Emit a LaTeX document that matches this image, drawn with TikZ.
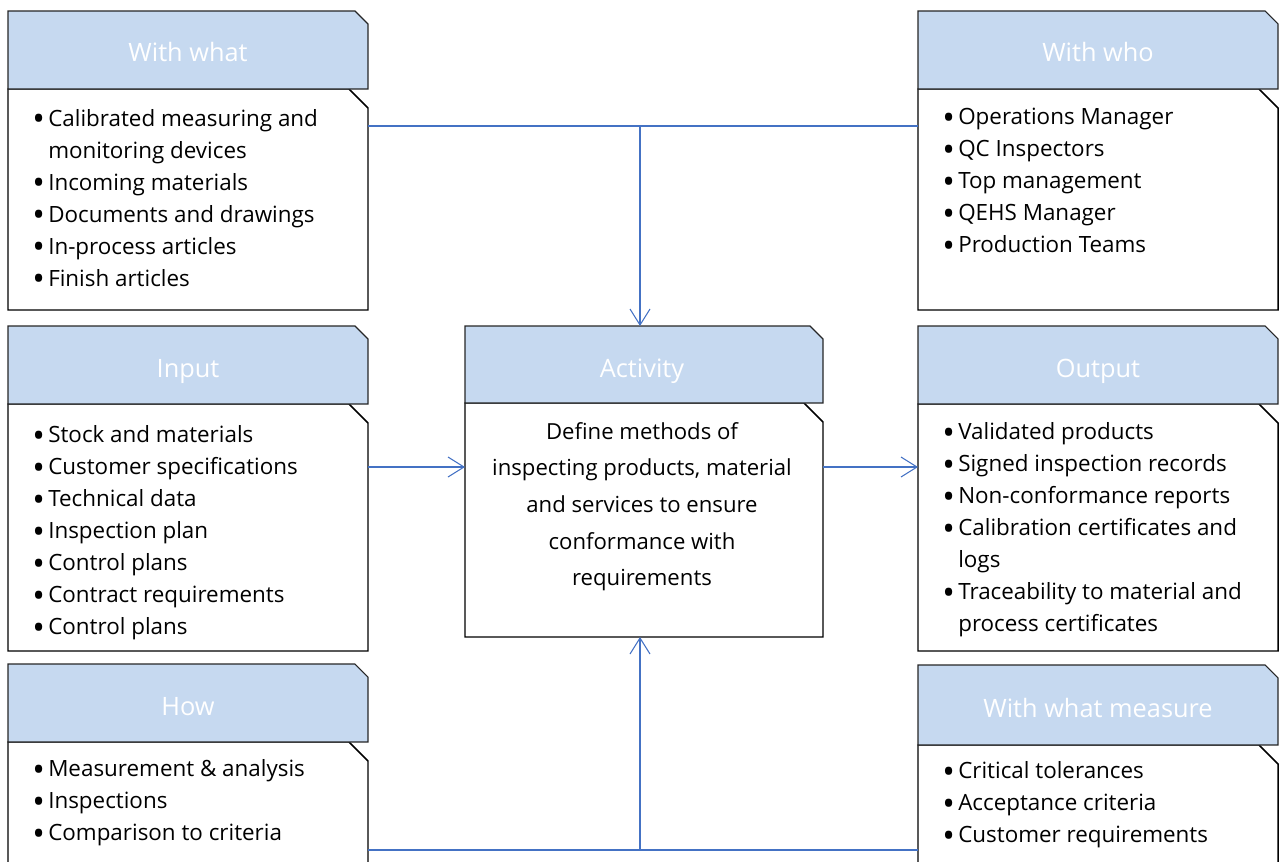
\documentclass[tikz,border=0pt]{standalone}
\usepackage{fontspec}
\setmainfont{Open Sans}
\usetikzlibrary{fit,arrows.meta}
\definecolor{hdr}{RGB}{198,217,240}
\definecolor{conn}{RGB}{68,114,196}
\newcommand\bl{\makebox[13.5pt][l]{\hspace{1.5pt}\raisebox{-0.21em}{\scalebox{1.5}{\textbullet}}}}
\newcommand\ind{\hspace*{13.5pt}}
% name, style, x1, y1, x2, y2, chamfer
\newcommand\chbox[7]{%
  \path[#2] (#3,#4) -- ({#5-#7},#4) -- (#5,{#4+#7}) -- (#5,#6) -- (#3,#6) -- cycle;
  \node[inner sep=0pt, outer sep=0pt, fit={(#3,#4) (#5,#6)}] (#1) {};}
\begin{document}
\begin{tikzpicture}[x=0.75pt,y=-0.75pt,
  hdrbox/.style={draw=black!85, line width=0.8pt, fill=hdr},
  bodybox/.style={draw=black, line width=1.1pt, fill=white},
  hlab/.style={anchor=base, text=white, inner sep=0pt, font=\fontsize{19pt}{23pt}\selectfont},
  lst/.style={anchor=north west, align=left, inner sep=0pt, font=\fontsize{16.8pt}{24pt}\selectfont},
  cn/.style={draw=conn, line width=0.8pt},
  arr/.style={cn, -{Straight Barb[length=12pt,width=15pt]}}
]
\useasboundingbox (0,0) rectangle (1280,861);
\clip (0,0) rectangle (1280,861);

% With what
\chbox{wwb}{bodybox}{8}{89}{368}{310}{19}
\chbox{wwh}{hdrbox}{8}{11}{368}{89}{13}
\node[hlab] (wwl) at (188,61) {With what};
\node[lst] (wwt) at (30,109) {\bl Calibrated measuring and\\ \ind monitoring devices\\ \bl Incoming materials\\ \bl Documents and drawings\\ \bl In-process articles\\ \bl Finish articles};

% With who
\chbox{whb}{bodybox}{918}{89}{1278}{310}{19}
\chbox{whh}{hdrbox}{918}{11}{1278}{89}{13}
\node[hlab] (whl) at (1098,61) {With who};
\node[lst] (wht) at (940,108) {\bl Operations Manager\\ \bl QC Inspectors\\ \bl Top management\\ \bl QEHS Manager\\ \bl Production Teams};

% Input
\chbox{inb}{bodybox}{8}{404}{368}{651}{19}
\chbox{inh}{hdrbox}{8}{326}{368}{404}{13}
\node[hlab] (inl) at (188,377) {Input};
\node[lst] (int) at (30,425) {\bl Stock and materials\\ \bl Customer specifications\\ \bl Technical data\\ \bl Inspection plan\\ \bl Control plans\\ \bl Contract requirements\\ \bl Control plans};

% Activity
\chbox{actb}{bodybox}{465}{403}{823}{637}{19}
\chbox{acth}{hdrbox}{465}{326}{823}{403}{13}
\node[hlab] (actl) at (642,377) {Activity};
\node[anchor=north, align=center, inner sep=0pt, font=\fontsize{16.6pt}{27.5pt}\selectfont] (actt) at (642,422) {Define methods of\\ inspecting products, material\\ and services to ensure\\ conformance with\\ requirements};

% Output
\chbox{outb}{bodybox}{918}{404}{1278}{651}{19}
\chbox{outh}{hdrbox}{918}{326}{1278}{404}{13}
\node[hlab] (outl) at (1098,377) {Output};
\node[lst] (outt) at (940,422) {\bl Validated products\\ \bl Signed inspection records\\ \bl Non-conformance reports\\ \bl Calibration certificates and\\ \ind logs\\ \bl Traceability to material and\\ \ind process certificates};

% How
\chbox{howb}{bodybox}{8}{742}{368}{880}{19}
\chbox{howh}{hdrbox}{8}{664}{368}{742}{13}
\node[hlab] (howl) at (188,715) {How};
\node[lst] (howt) at (30,759) {\bl Measurement \& analysis\\ \bl Inspections\\ \bl Comparison to criteria};

% With what measure
\chbox{wmb}{bodybox}{918}{745}{1278}{880}{19}
\chbox{wmh}{hdrbox}{918}{665}{1278}{745}{13}
\node[hlab] (wml) at (1098,717) {With what measure};
\node[lst] (wmt) at (940,761) {\bl Critical tolerances\\ \bl Acceptance criteria\\ \bl Customer requirements};

% connectors
\coordinate (tj) at (640,126);
\coordinate (bj) at (640,850);
\coordinate (my) at (640,467);
\draw[cn] (wwb.east |- tj) -- (whb.west |- tj);
\draw[arr] (tj) -- (tj |- acth.north);
\draw[arr] (inb.east |- my) -- (actb.west |- my);
\draw[arr] (actb.east |- my) -- (outb.west |- my);
\draw[cn, line width=1.2pt] (howb.east |- bj) -- (wmb.west |- bj);
\draw[arr] (bj) -- (bj |- actb.south);
\end{tikzpicture}
\end{document}
